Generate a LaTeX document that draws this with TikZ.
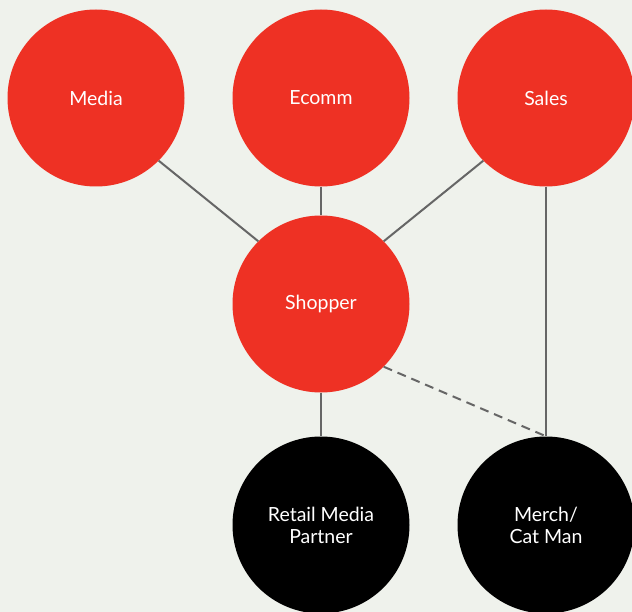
\documentclass[tikz,border=0pt]{standalone}
\usepackage{fontspec}
\setmainfont{Lato}
\definecolor{bg}{HTML}{EFF2EC}
\definecolor{hubred}{HTML}{EE3124}
\definecolor{linkgray}{HTML}{666666}
\begin{document}
\begin{tikzpicture}[x=1pt,y=-1pt,
  hub/.style={circle,fill=hubred,minimum size=177pt,inner sep=0pt,text=white,
    font=\fontsize{19.5}{22}\selectfont,align=center},
  partner/.style={hub,fill=black},
  link/.style={draw=linkgray,line width=2pt}]
  \fill[bg] (0,0) rectangle (632,612);
  \useasboundingbox (0,0) rectangle (632,612);
  \node[hub] (media) at (96,98) {Media};
  \node[hub] (ecomm) at (321,98) {Ecomm};
  \node[hub] (sales) at (546,98) {Sales};
  \node[hub] (shopper) at (321,304) {Shopper};
  \node[partner] (retail) at (321,525) {Retail Media\\Partner};
  \node[partner] (merch) at (546,525) {Merch/\\Cat Man};
  \draw[link] (media.south east) -- (shopper.north west);
  \draw[link] (ecomm) -- (shopper);
  \draw[link] (sales.south west) -- (shopper.north east);
  \draw[link] (sales) -- (merch);
  \draw[link] (shopper) -- (retail);
  \draw[link,dash pattern=on 9pt off 6pt] (shopper.south east) -- (merch.north);
\end{tikzpicture}
\end{document}
